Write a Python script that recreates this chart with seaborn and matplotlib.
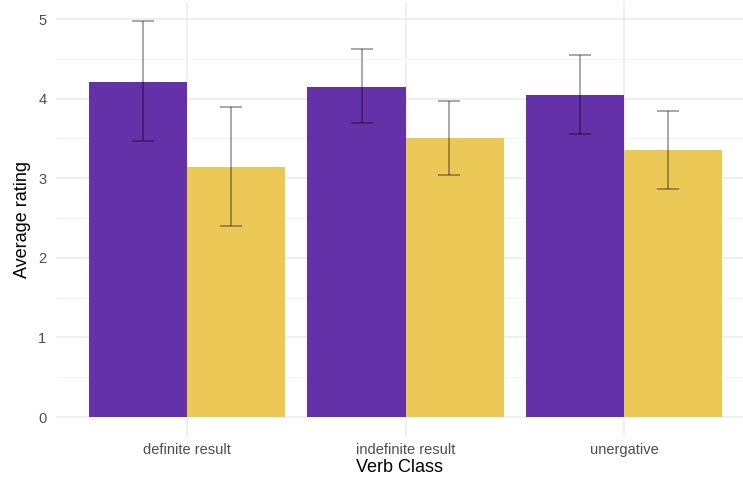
import matplotlib
matplotlib.use("Agg")
import matplotlib.pyplot as plt
import seaborn as sns
import numpy as np
import pandas as pd

verb_classes = ["definite result", "indefinite result", "unergative"]
conditions = ["condition 1", "condition 2"]
means_c1 = [4.21, 4.15, 4.05]
means_c2 = [3.14, 3.50, 3.35]
lower_c1 = [3.47, 3.69, 3.56]
upper_c1 = [4.97, 4.62, 4.55]
lower_c2 = [2.40, 3.04, 2.86]
upper_c2 = [3.90, 3.97, 3.84]
colors = ["#6531A9", "#ECC957"]

df = pd.DataFrame({
    "verb_class": verb_classes * 2,
    "condition": [conditions[0]] * 3 + [conditions[1]] * 3,
    "rating": means_c1 + means_c2,
    "lower": lower_c1 + lower_c2,
    "upper": upper_c1 + upper_c2,
})

sns.set_style("whitegrid")
plt.rcParams["font.family"] = ["Liberation Sans", "DejaVu Sans"]

fig = plt.figure(figsize=(7.43, 4.83), dpi=100)
ax = fig.add_axes([56 / 743, 1 - 437 / 483, (743 - 56) / 743, (437 - 1.5) / 483])

sns.barplot(data=df, x="verb_class", y="rating", hue="condition",
            palette=colors, saturation=1, width=0.9, errorbar=None,
            linewidth=0, ax=ax, legend=False)

# error bars dodged a bit narrower (0.8) than the bars (0.9)
bars = ax.patches
for bar, (_, row) in zip(bars, df.iterrows()):
    xb = bar.get_x() + bar.get_width() / 2
    cat = round(xb)
    xc = cat + (xb - cat) * 0.8 / 0.9
    m = row["rating"]
    ax.errorbar(xc, m, yerr=[[m - row["lower"]], [row["upper"] - m]],
                fmt="none", ecolor="black", alpha=0.4, elinewidth=1.2,
                capsize=8, capthick=1.2, zorder=3)

ax.set_xlim(-0.6, 2.545)
ax.set_ylim(-0.25, 5.22)
ax.set_yticks([0, 1, 2, 3, 4, 5])
ax.set_yticks(np.arange(0.5, 5, 1), minor=True)
ax.grid(True, which="major", color="#EBEBEB", linewidth=1.1)
ax.grid(True, which="minor", axis="y", color="#F3F3F3", linewidth=0.6)
ax.set_axisbelow(True)
for s in ax.spines.values():
    s.set_visible(False)
ax.tick_params(axis="both", which="both", length=0, labelsize=10.5,
               labelcolor="#4D4D4D")
ax.tick_params(axis="y", pad=7)
ax.tick_params(axis="x", pad=4)
ax.set_xlabel("Verb Class", fontsize=13, color="black", labelpad=2)
ax.set_ylabel("Average rating", fontsize=13, color="black", labelpad=5)

fig.savefig("out.png", dpi=100)
